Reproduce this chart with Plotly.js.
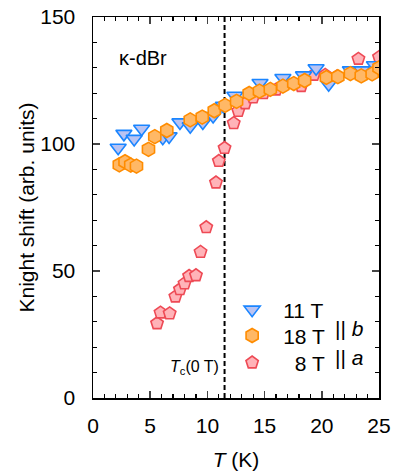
<!DOCTYPE html>
<html><head><meta charset="utf-8">
<script src="https://cdn.plot.ly/plotly-3.0.1.min.js"></script>
<style>html,body{margin:0;padding:0;background:#fff}#chart{width:393px;height:472px}</style>
</head><body><div id="chart"></div>
<script>
// 11 T || b
const T11 = [2.2, 2.7, 3.6, 4.25, 6.1, 6.65, 7.6, 8.5, 9.6, 10.5, 11.4, 12.4, 14.6, 16.6, 18.4, 19.5, 20.6, 22.5, 23.5, 24.6];
const K11 = [98.5, 104, 102, 106, 102.5, 103, 108.5, 107, 108.5, 111, 115, 119, 124, 126, 127, 129.8, 123.5, 129, 129, 131];
// 18 T || b
const T18 = [2.3, 2.8, 3.3, 3.8, 4.85, 5.4, 6.45, 8.5, 9.55, 10.6, 11.55, 12.55, 13.65, 14.55, 15.5, 16.6, 17.55, 18.5, 20.4, 21.4, 22.5, 23.45, 24.4, 25.0];
const K18 = [91.8, 93, 91.7, 91.3, 97.9, 102.9, 105.3, 109.5, 110.6, 113.1, 115.2, 116.8, 119.9, 120.8, 121.5, 122.8, 123.8, 125, 126.2, 126.5, 127.7, 126.8, 127.6, 130];
// 8 T || a
const T8 = [5.6, 5.9, 6.7, 7.2, 7.6, 8.0, 8.4, 9.0, 9.4, 9.9, 10.75, 11.0, 11.5, 12.3, 12.7, 13.3, 14.0, 14.9, 16.0, 18.2, 19.3, 20.3, 21.3, 23.2, 25.0];
const K8 = [29.4, 33.6, 33.3, 39.9, 42.8, 45.1, 48.0, 48.3, 57.5, 67.2, 84.8, 93.3, 98.4, 108.2, 113.0, 116.0, 118.3, 120.0, 121.4, 122.8, 127.2, 127.2, 126.5, 133.5, 134.2];
const legendNames = ['11 T', '18 T', '\u20078 T'];
const Tc = 11.5;

const traces = [
  {x: T8, y: K8, name: legendNames[2], legend: 'legend3', type: 'scatter', mode: 'markers',
   marker: {symbol: 'pentagon', size: 13, color: '#ffb3b8', line: {color: '#ee4a55', width: 1.6}}},
  {x: T11, y: K11, name: legendNames[0], legend: 'legend', type: 'scatter', mode: 'markers',
   marker: {symbol: 'triangle-down', size: 14, color: '#b9c3f2', line: {color: '#1a85ff', width: 1.6}}},
  {x: T18, y: K18, name: legendNames[1], legend: 'legend2', type: 'scatter', mode: 'markers',
   marker: {symbol: 'hexagon', size: 14, color: '#ffb866', line: {color: '#ff8c00', width: 1.6}}},
];

const font = {family: 'Liberation Sans, Arial, sans-serif', size: 21, color: '#000'};
function leg(y) {
  return {x: 0.448, y: y, xanchor: 'left', yanchor: 'middle', bgcolor: 'rgba(0,0,0,0)',
          font: {family: font.family, size: 21, color: '#000'}, itemwidth: 52};
}
const layout = {
  width: 393, height: 472,
  margin: {l: 93, r: 14, t: 17, b: 74},
  paper_bgcolor: '#fff', plot_bgcolor: '#fff',
  font: font,
  showlegend: true,
  legend: leg(0.231), legend2: leg(0.163), legend3: leg(0.092),
  xaxis: {range: [0, 25], tickvals: [0, 5, 10, 15, 20, 25], ticks: 'inside', ticklen: 7, tickwidth: 1.5,
          showline: true, linecolor: '#000', linewidth: 1.5, mirror: 'ticks', showgrid: false, zeroline: false,
          minor: {dtick: 1, ticks: 'inside', ticklen: 4, tickwidth: 1.2, tickcolor: '#000', showgrid: false},
          ticklabelstandoff: 8,
          title: {text: '<i>T</i> (K)', font: {size: 21}, standoff: 16}, tickfont: {size: 21}},
  yaxis: {range: [0, 150], tickvals: [0, 50, 100, 150], ticks: 'inside', ticklen: 7, tickwidth: 1.5,
          showline: true, linecolor: '#000', linewidth: 1.5, mirror: 'ticks', showgrid: false, zeroline: false,
          minor: {dtick: 10, ticks: 'inside', ticklen: 4, tickwidth: 1.2, tickcolor: '#000', showgrid: false},
          ticklabelstandoff: 12,
          title: {text: 'Knight shift (arb. units)', font: {size: 21}, standoff: 0}, tickfont: {size: 21}},
  shapes: [{type: 'line', xref: 'x', yref: 'y', x0: Tc, x1: Tc, y0: 0, y1: 150,
            line: {color: '#000', width: 2, dash: '5px,3px'}, layer: 'below'}],
  annotations: [
    {xref: 'paper', yref: 'paper', x: 0.085, y: 0.893, xanchor: 'left', yanchor: 'middle', showarrow: false,
     text: '\u03ba-dBr', font: {size: 20}},
    {xref: 'x', yref: 'paper', x: Tc - 0.3, y: 0.08, xanchor: 'right', yanchor: 'middle', showarrow: false,
     text: '<i>T</i><sub>c</sub>(0 T)', font: {size: 16}},
    {xref: 'paper', yref: 'paper', x: 0.84, y: 0.182, xanchor: 'left', yanchor: 'middle', showarrow: false,
     text: '|| <i>b</i>', font: {size: 21}},
    {xref: 'paper', yref: 'paper', x: 0.84, y: 0.105, xanchor: 'left', yanchor: 'middle', showarrow: false,
     text: '|| <i>a</i>', font: {size: 21}},
  ]
};
Plotly.newPlot('chart', traces, layout, {displayModeBar: false, staticPlot: true});
</script></body></html>
